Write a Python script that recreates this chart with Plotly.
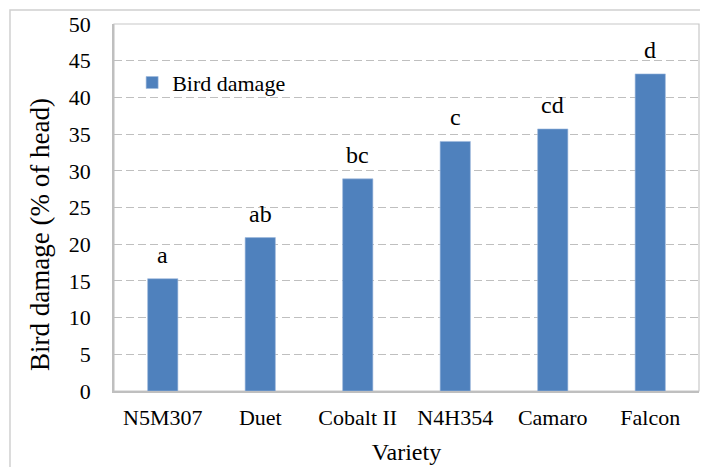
import plotly.graph_objects as go

varieties = ["N5M307", "Duet", "Cobalt II", "N4H354", "Camaro", "Falcon"]
bird_damage = [15.3, 20.9, 28.9, 34.0, 35.7, 43.2]
letters = ["a", "ab", "bc", "c", "cd", "d"]
y_ticks = [0, 5, 10, 15, 20, 25, 30, 35, 40, 45, 50]

FONT = "Liberation Serif"

fig = go.Figure()
fig.add_trace(go.Bar(
    x=varieties, y=bird_damage, name="Bird damage",
    marker=dict(color="#4F81BD", line=dict(color="#9DB9DE", width=0.6)),
    width=0.31, showlegend=True,
))

for v, val, lab in zip(varieties, bird_damage, letters):
    fig.add_annotation(x=v, y=val, text=lab, showarrow=False, yanchor="bottom",
                       yshift=9, font=dict(family=FONT, size=24, color="black"))

# y-axis title (placed slightly below the plot centre, as in the reference)
fig.add_annotation(xref="paper", yref="paper", x=-0.1265, y=0.428, text="Bird damage (% of head)",
                   textangle=-90, showarrow=False, xanchor="center", yanchor="middle",
                   font=dict(family=FONT, size=27, color="black"))

# outer chart border
fig.add_shape(type="rect", xref="paper", yref="paper", x0=-0.1778, x1=1.03, y0=-0.25, y1=1.038,
              line=dict(color="#D0D0D0", width=1.5), fillcolor="rgba(0,0,0,0)", layer="below")
# plot area border
fig.add_shape(type="rect", xref="paper", yref="paper", x0=0, x1=1, y0=0, y1=1,
              line=dict(color="#C8C8C8", width=1.2), fillcolor="rgba(0,0,0,0)", layer="below")

fig.update_layout(
    width=700, height=459,
    margin=dict(l=106, r=9, t=16, b=76),
    paper_bgcolor="white", plot_bgcolor="white",
    font=dict(family=FONT, size=22, color="black"),
    bargap=0.69,
    legend=dict(x=0.031, y=0.84, xanchor="left", yanchor="middle",
                bgcolor="rgba(0,0,0,0)", itemwidth=30, font=dict(family=FONT, size=22)),
    xaxis=dict(
        title=dict(text="Variety", font=dict(family=FONT, size=24), standoff=14),
        showline=True, linecolor="#BFBFBF", linewidth=1.5,
        ticks="", tickfont=dict(family=FONT, size=22),
        ticklabelstandoff=6, automargin=False, showgrid=False,
    ),
    yaxis=dict(
        range=[0, 50], tickvals=y_ticks,
        showline=True, linecolor="#BFBFBF", linewidth=1.5,
        showgrid=True, gridcolor="#BFBFBF", griddash="8px,4px", gridwidth=1.3,
        zeroline=False, ticks="", tickfont=dict(family=FONT, size=22),
        ticklabelstandoff=17, automargin=False,
    ),
)

fig.write_html("out.html")
